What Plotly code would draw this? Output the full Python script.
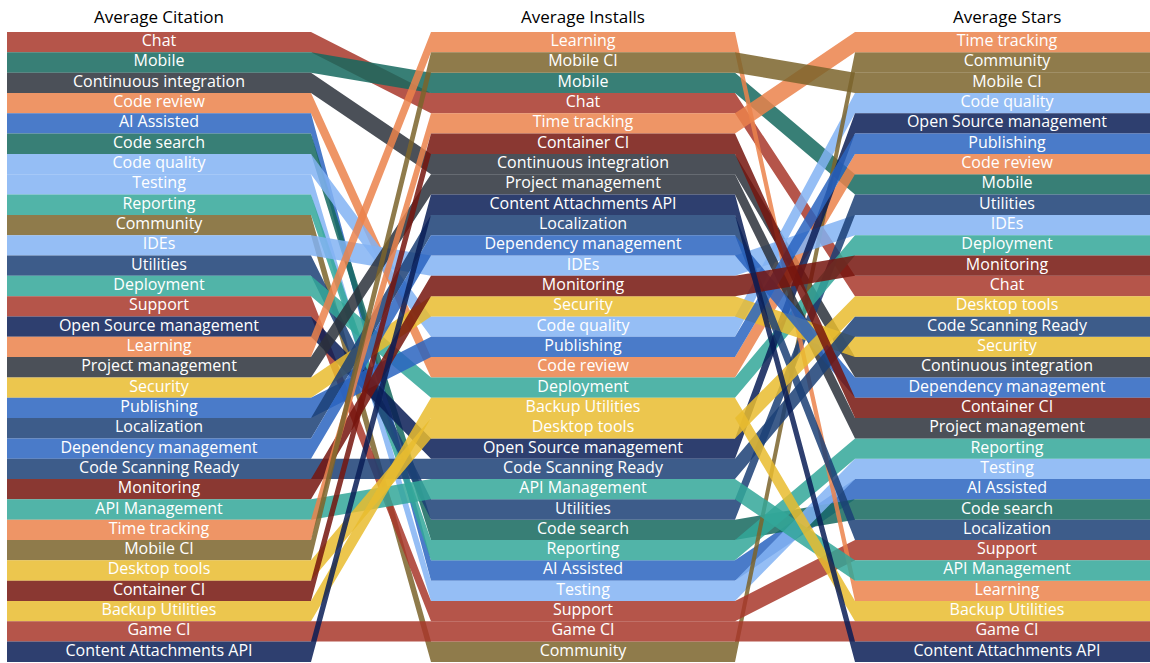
import plotly.graph_objects as go

# ---- data: rank order of categories in each metric ----
titles = ["Average Citation", "Average Installs", "Average Stars"]

citation_order = [
    "Chat", "Mobile", "Continuous integration", "Code review", "AI Assisted",
    "Code search", "Code quality", "Testing", "Reporting", "Community", "IDEs",
    "Utilities", "Deployment", "Support", "Open Source management", "Learning",
    "Project management", "Security", "Publishing", "Localization",
    "Dependency management", "Code Scanning Ready", "Monitoring",
    "API Management", "Time tracking", "Mobile CI", "Desktop tools",
    "Container CI", "Backup Utilities", "Game CI", "Content Attachments API",
]

installs_order = [
    "Learning", "Mobile CI", "Mobile", "Chat", "Time tracking", "Container CI",
    "Continuous integration", "Project management", "Content Attachments API",
    "Localization", "Dependency management", "IDEs", "Monitoring", "Security",
    "Code quality", "Publishing", "Code review", "Deployment",
    "Backup Utilities", "Desktop tools", "Open Source management",
    "Code Scanning Ready", "API Management", "Utilities", "Code search",
    "Reporting", "AI Assisted", "Testing", "Support", "Game CI", "Community",
]

stars_order = [
    "Time tracking", "Community", "Mobile CI", "Code quality",
    "Open Source management", "Publishing", "Code review", "Mobile",
    "Utilities", "IDEs", "Deployment", "Monitoring", "Chat", "Desktop tools",
    "Code Scanning Ready", "Security", "Continuous integration",
    "Dependency management", "Container CI", "Project management",
    "Reporting", "Testing", "AI Assisted", "Code search", "Localization",
    "Support", "API Management", "Learning", "Backup Utilities", "Game CI",
    "Content Attachments API",
]

category_colors = {
    "Chat": "#b5554a", "Support": "#b5554a", "Game CI": "#b5554a",
    "Mobile": "#387f76", "Code search": "#387f76",
    "Continuous integration": "#4b5058", "Project management": "#4b5058",
    "Code review": "#ee9566", "Learning": "#ee9566", "Time tracking": "#ee9566",
    "AI Assisted": "#4a7bc9", "Publishing": "#4a7bc9", "Dependency management": "#4a7bc9",
    "Code quality": "#96bef5", "Testing": "#96bef5", "IDEs": "#96bef5",
    "Reporting": "#52b4a8", "Deployment": "#52b4a8", "API Management": "#52b4a8",
    "Community": "#8f7b4c", "Mobile CI": "#8f7b4c",
    "Utilities": "#3d5c8a", "Localization": "#3d5c8a", "Code Scanning Ready": "#3d5c8a",
    "Open Source management": "#2e3f6f", "Content Attachments API": "#2e3f6f",
    "Security": "#ecc64e", "Desktop tools": "#ecc64e", "Backup Utilities": "#ecc64e",
    "Monitoring": "#8a3832", "Container CI": "#8a3832",
}

# ---- layout constants ----
W, H = 1150, 663
col_x0 = [7, 431, 855]
col_w = 304
top = 32
row_h = 20.32
alpha = 0.85
font_family = "Open Sans"


def fill_rgba(hexcol, a):
    h = hexcol.lstrip("#")
    rgb = [int(h[i:i + 2], 16) for i in (0, 2, 4)]
    base = [max(0, min(255, round((c - 255 * (1 - a)) / a))) for c in rgb]
    return f"rgba({base[0]},{base[1]},{base[2]},{a})"


orders = [citation_order, installs_order, stars_order]
fig = go.Figure()

for cat in citation_order:
    ranks = [o.index(cat) for o in orders]
    xs, ys = [], []
    for k, r in enumerate(ranks):
        y = top + r * row_h
        xs += [col_x0[k], col_x0[k] + col_w]
        ys += [y, y]
    for k in reversed(range(3)):
        y = top + (ranks[k] + 1) * row_h
        xs += [col_x0[k] + col_w, col_x0[k]]
        ys += [y, y]
    fig.add_trace(go.Scatter(
        x=xs, y=ys, mode="lines", fill="toself",
        fillcolor=fill_rgba(category_colors[cat], alpha),
        line=dict(width=0), hoverinfo="text", text=cat, showlegend=False,
    ))

for k, order in enumerate(orders):
    fig.add_trace(go.Scatter(
        x=[col_x0[k] + col_w / 2] * len(order),
        y=[top + (i + 0.5) * row_h for i in range(len(order))],
        mode="text", text=order,
        textfont=dict(family=font_family, size=16, color="white"),
        hoverinfo="skip", showlegend=False,
    ))
    fig.add_annotation(
        x=col_x0[k] + col_w / 2, y=16, text=titles[k], showarrow=False,
        font=dict(family=font_family, size=17, color="black"),
        xanchor="center", yanchor="middle",
    )

fig.update_layout(
    width=W, height=H, margin=dict(l=0, r=0, t=0, b=0),
    paper_bgcolor="white", plot_bgcolor="white",
    xaxis=dict(range=[0, W], visible=False, fixedrange=True),
    yaxis=dict(range=[H, 0], visible=False, fixedrange=True),
    showlegend=False,
)

fig.write_html(
    "out.html",
    config={"displayModeBar": False},
    post_script="document.body.style.margin='0';document.body.style.overflow='hidden';",
)
